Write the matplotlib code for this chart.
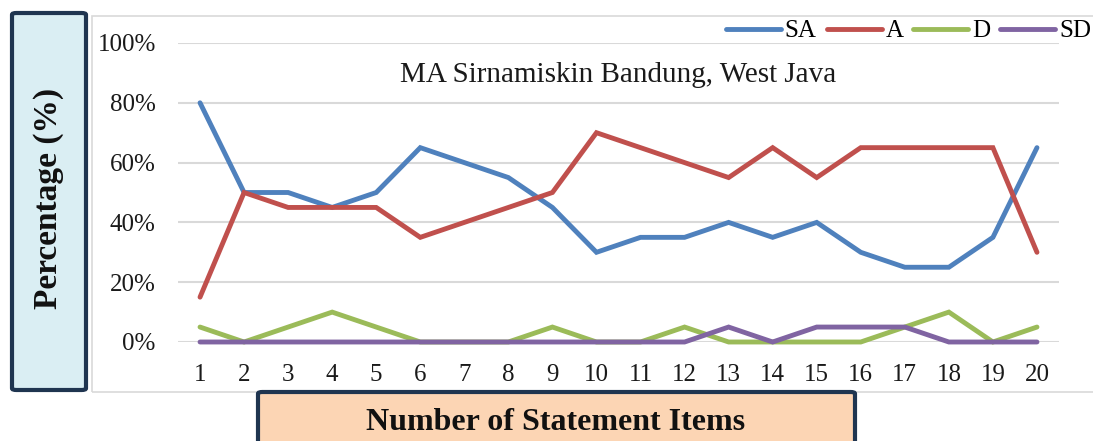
import matplotlib
matplotlib.use("Agg")
import matplotlib.pyplot as plt
from matplotlib.patches import Rectangle, FancyBboxPatch
from matplotlib.lines import Line2D
from matplotlib.ticker import PercentFormatter

items = list(range(1, 21))
sa = [80, 50, 50, 45, 50, 65, 60, 55, 45, 30, 35, 35, 40, 35, 40, 30, 25, 25, 35, 65]
a = [15, 50, 45, 45, 45, 35, 40, 45, 50, 70, 65, 60, 55, 65, 55, 65, 65, 65, 65, 30]
d = [5, 0, 5, 10, 5, 0, 0, 0, 5, 0, 0, 5, 0, 0, 0, 0, 5, 10, 0, 5]
sd = [0, 0, 0, 0, 0, 0, 0, 0, 0, 0, 0, 0, 5, 0, 5, 5, 5, 0, 0, 0]
series = [("SA", sa, "#4F81BD"), ("A", a, "#C0504D"), ("D", d, "#9BBB59"), ("SD", sd, "#8064A2")]
yticks = [0, 20, 40, 60, 80, 100]
title = "MA Sirnamiskin Bandung, West Java"

plt.rcParams['font.family'] = ['Liberation Serif', 'DejaVu Serif']

W, H = 1093, 441
fig = plt.figure(figsize=(W / 100, H / 100), dpi=100)

def px(x0, y0, x1, y1):
    # pixel box (top-origin) -> figure fraction [left, bottom, width, height]
    return [x0 / W, (H - y1) / H, (x1 - x0) / W, (y1 - y0) / H]

# chart area border
l, b, w, h = px(92, 16, 1100, 392)
fig.patches.append(Rectangle((l, b), w, h, transform=fig.transFigure,
                             facecolor="none", edgecolor="#D9D9D9", lw=1.2, zorder=-1))

ax = fig.add_axes(px(178, 43, 1059, 342))
ax.set_facecolor("none")
for name, vals, col in series:
    ax.plot(items, [v / 100 for v in vals], color=col, lw=3.5, label=name,
            solid_capstyle="round", solid_joinstyle="miter", clip_on=False, zorder=3)

ax.set_xlim(0.5, 20.5)
ax.set_ylim(0, 1)
ax.set_yticks([t / 100 for t in yticks])
ax.yaxis.set_major_formatter(PercentFormatter(1.0, decimals=0))
ax.set_xticks(items)
ax.grid(axis="y", color="#D9D9D9", lw=1.5)
ax.set_axisbelow(True)
for s in ax.spines.values():
    s.set_visible(False)
ax.tick_params(axis="both", length=0, labelsize=18, colors="#1a1a1a")
ax.tick_params(axis="y", pad=16)
ax.tick_params(axis="x", pad=16)

ax.text(0.5, 0.893, title, transform=ax.transAxes, ha="center", va="center",
        fontsize=21, color="#1a1a1a")

handles = [Line2D([0], [0], color=c, lw=3.5, solid_capstyle="round") for _, _, c in series]
fig.legend(handles, [n for n, _, _ in series], loc="center left",
           bbox_to_anchor=(726 / W, (H - 31) / H), ncol=4, frameon=False,
           fontsize=18, handlelength=2.2, handletextpad=0.15, columnspacing=0.4,
           borderpad=0, borderaxespad=0)

# y label box
yb = px(12, 13, 86, 390)
fig.patches.append(FancyBboxPatch((yb[0], yb[1]), yb[2], yb[3], transform=fig.transFigure,
                                  boxstyle="round,pad=0,rounding_size=0.004",
                                  facecolor="#DAEEF3", edgecolor="#1F3550", lw=3, zorder=5))
fig.text(49 / W, (H - 198) / H, "Percentage (%)", rotation=90, ha="center", va="center",
         fontsize=24, fontweight="bold", color="#111111", zorder=6)

# x label box
xb = px(258, 392, 855, 460)
fig.patches.append(FancyBboxPatch((xb[0], xb[1]), xb[2], xb[3], transform=fig.transFigure,
                                  boxstyle="round,pad=0,rounding_size=0.004",
                                  facecolor="#FCD5B4", edgecolor="#1F3550", lw=3, zorder=5))
fig.text(556 / W, (H - 423) / H, "Number of Statement Items", ha="center", va="center",
         fontsize=23, fontweight="bold", color="#111111", zorder=6)

fig.savefig("out.png", dpi=100)
